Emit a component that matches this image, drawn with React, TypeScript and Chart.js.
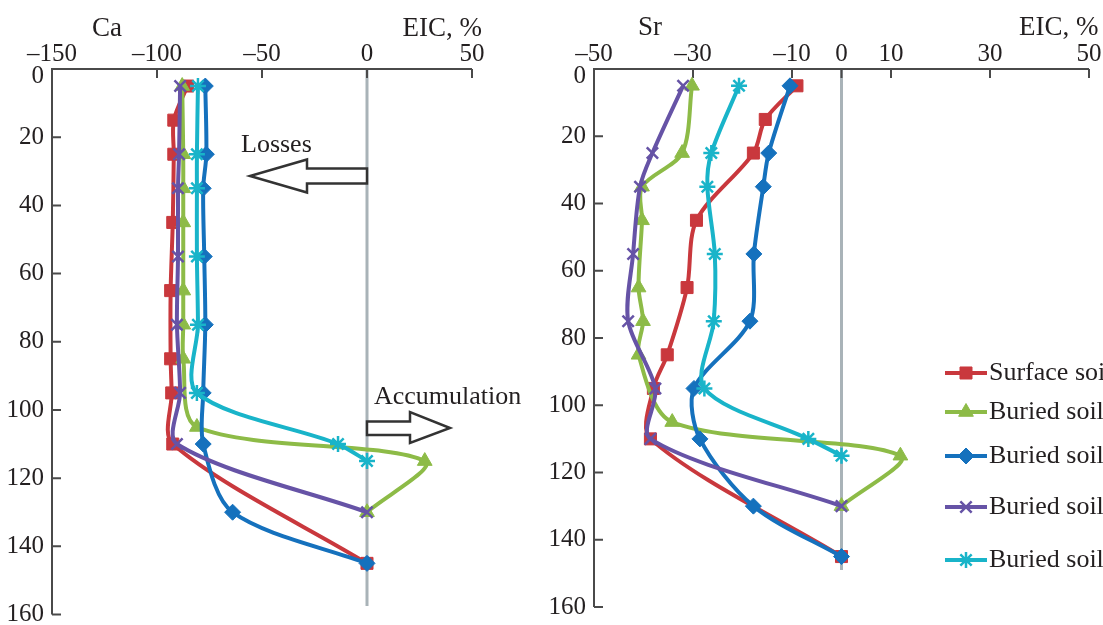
import React, { useEffect, useRef } from 'react';
import { Chart, registerables } from 'chart.js';
import { drawPoint } from 'chart.js/helpers';

Chart.register(...registerables);

// ---- data ----
const seriesNames = ['Surface soil', 'Buried soil 1', 'Buried soil 2', 'Buried soil 3', 'Buried soil 4'];

const depthSurface = [5, 15, 25, 45, 65, 85, 95, 110, 145];
const depthBuried1 = [5, 25, 35, 45, 65, 75, 85, 105, 115, 130];
const depthBuried2 = [5, 25, 35, 55, 75, 95, 110, 130, 145];
const depthBuried3 = [5, 25, 35, 55, 75, 95, 110, 130];
const depthBuried4 = [5, 25, 35, 55, 75, 95, 110, 115];

const caSurface = [-85.5, -92, -92, -92.5, -93.5, -93.5, -93, -92.5, 0];
const caBuried1 = [-88, -87.5, -87.5, -87.5, -87.5, -87.5, -87.5, -81, 27.5, 0];
const caBuried2 = [-77, -76.5, -78, -77.5, -77, -78, -78, -64, 0];
const caBuried3 = [-89, -89.5, -90, -90, -90.5, -89, -90.5, 0];
const caBuried4 = [-80.5, -81, -81, -81, -80.5, -81, -13.8, 0];

const srSurface = [-9, -15.4, -17.8, -29.3, -31.2, -35.2, -38, -38.6, 0];
const srBuried1 = [-30.2, -32.2, -40.3, -40.3, -41, -40.1, -41, -34.2, 11.9, 0];
const srBuried2 = [-10.4, -14.7, -15.8, -17.7, -18.5, -29.8, -28.6, -17.8, 0];
const srBuried3 = [-32, -38.2, -40.7, -42.1, -43.1, -37.6, -38.6, 0];
const srBuried4 = [-20.7, -26.3, -27.1, -25.6, -25.8, -27.7, -6.7, 0];

const caTicks = [-150, -100, -50, 0, 50];
const srTicks = [-50, -30, -10, 0, 10, 30, 50];
const depthTicks = [0, 20, 40, 60, 80, 100, 120, 140, 160];

// ---- styles ----
const depths = [depthSurface, depthBuried1, depthBuried2, depthBuried3, depthBuried4];
const colors = ['#c9383d', '#8dbb47', '#1571bd', '#6653a6', '#19b4c9'];
const pStyles = ['rect', 'triangle', 'rectRot', 'crossRot', 'star'];
const pRadius = [8.5, 8.5, 8, 8, 8];
const pBorder = [1, 1, 1, 2.5, 2.5];
const FONT = 'Liberation Serif';
const TEXT = '#231f20';

function buildDatasets(values: number[][]) {
  return values.map((vals, i) => ({
    label: seriesNames[i],
    data: depths[i].map((d, k) => ({ x: vals[k], y: d })),
    borderColor: colors[i],
    backgroundColor: colors[i],
    pointBackgroundColor: colors[i],
    pointBorderColor: colors[i],
    pointStyle: pStyles[i],
    pointRadius: pRadius[i],
    pointBorderWidth: pBorder[i],
    borderWidth: 4,
    tension: 0.3,
    fill: false,
    order: 5 - i,
  }));
}

type PanelCfg = {
  title: string;
  titleX: number;
  titleY: number;
  eicX: number;
  eicAlign: CanvasTextAlign;
  zeroEnd: number;
  annotations: boolean;
  legend: boolean;
};

function makePanelPlugin(cfg: PanelCfg) {
  return {
    id: 'panel',
    beforeDatasetsDraw(chart: any) {
      const { ctx, chartArea: a, scales } = chart;
      const x = scales.x;
      const y = scales.y;
      ctx.save();
      // zero reference line
      const zx = x.getPixelForValue(0);
      ctx.strokeStyle = '#a9b3b8';
      ctx.lineWidth = 3;
      ctx.beginPath();
      ctx.moveTo(zx, a.top);
      ctx.lineTo(zx, y.getPixelForValue(cfg.zeroEnd));
      ctx.stroke();
      // axes
      ctx.strokeStyle = '#4a4a4a';
      ctx.lineWidth = 2;
      ctx.beginPath();
      ctx.moveTo(a.left, a.bottom);
      ctx.lineTo(a.left, a.top);
      ctx.lineTo(a.right, a.top);
      ctx.stroke();
      // inner ticks
      ctx.beginPath();
      x.ticks.forEach((t: any) => {
        const px = x.getPixelForValue(t.value);
        ctx.moveTo(px, a.top);
        ctx.lineTo(px, a.top + 9);
      });
      y.ticks.forEach((t: any) => {
        const py = y.getPixelForValue(t.value);
        ctx.moveTo(a.left, py);
        ctx.lineTo(a.left + 9, py);
      });
      ctx.stroke();
      ctx.restore();
    },
    afterDraw(chart: any) {
      const { ctx, chartArea: a } = chart;
      ctx.save();
      ctx.fillStyle = TEXT;
      // titles
      ctx.font = `27px "${FONT}"`;
      ctx.textBaseline = 'alphabetic';
      ctx.textAlign = 'left';
      ctx.fillText(cfg.title, cfg.titleX, cfg.titleY);
      ctx.textAlign = cfg.eicAlign;
      ctx.fillText('EIC, %', cfg.eicX, cfg.titleY);
      // shifted "0" depth label
      ctx.font = `25px "${FONT}"`;
      ctx.textAlign = 'right';
      ctx.textBaseline = 'middle';
      ctx.fillText('0', a.left - 8, a.top + 7);

      if (cfg.annotations) {
        ctx.font = `26px "${FONT}"`;
        ctx.textAlign = 'left';
        ctx.textBaseline = 'alphabetic';
        ctx.fillText('Losses', 241, 152);
        ctx.fillText('Accumulation', 374, 404);
        ctx.strokeStyle = '#333';
        ctx.lineWidth = 2.5;
        ctx.lineJoin = 'miter';
        ctx.fillStyle = '#fff';
        // left arrow
        ctx.beginPath();
        ctx.moveTo(367, 168.5);
        ctx.lineTo(307, 168.5);
        ctx.lineTo(307, 159.5);
        ctx.lineTo(250, 176);
        ctx.lineTo(307, 192.5);
        ctx.lineTo(307, 183.5);
        ctx.lineTo(367, 183.5);
        ctx.closePath();
        ctx.fill();
        ctx.stroke();
        // right arrow
        ctx.beginPath();
        ctx.moveTo(367, 421.5);
        ctx.lineTo(410, 421.5);
        ctx.lineTo(410, 412);
        ctx.lineTo(450, 428);
        ctx.lineTo(410, 443);
        ctx.lineTo(410, 435);
        ctx.lineTo(367, 435);
        ctx.closePath();
        ctx.fill();
        ctx.stroke();
      }

      if (cfg.legend) {
        const ys = [373, 412, 456, 507, 560];
        chart.data.datasets.forEach((ds: any, i: number) => {
          const ly = ys[i];
          ctx.strokeStyle = ds.borderColor;
          ctx.lineWidth = 4;
          ctx.beginPath();
          ctx.moveTo(405, ly);
          ctx.lineTo(447, ly);
          ctx.stroke();
          ctx.fillStyle = ds.borderColor;
          ctx.lineWidth = ds.pointBorderWidth;
          drawPoint(ctx, { pointStyle: ds.pointStyle, radius: ds.pointRadius, borderWidth: ds.pointBorderWidth, rotation: 0 } as any, 426, ly);
          ctx.fillStyle = TEXT;
          ctx.font = `26px "${FONT}"`;
          ctx.textAlign = 'left';
          ctx.textBaseline = 'alphabetic';
          ctx.fillText(ds.label, 449, ly + 7);
        });
      }
      ctx.restore();
    },
  };
}

function makeConfig(
  values: number[][],
  xTicks: number[],
  pad: { left: number; right: number; bottom: number },
  yWidth: number,
  cfg: PanelCfg
): any {
  return {
    type: 'line',
    data: { datasets: buildDatasets(values) },
    options: {
      animation: false,
      responsive: false,
      devicePixelRatio: 1,
      layout: { padding: { left: pad.left, right: pad.right, top: 0, bottom: pad.bottom } },
      plugins: { legend: { display: false }, tooltip: { enabled: false } },
      scales: {
        x: {
          type: 'linear',
          position: 'top',
          min: xTicks[0],
          max: xTicks[xTicks.length - 1],
          afterBuildTicks: (s: any) => {
            s.ticks = xTicks.map((v) => ({ value: v }));
          },
          afterFit: (s: any) => {
            s.height = 69;
            s.paddingLeft = 0;
            s.paddingRight = 0;
          },
          grid: { display: false, drawTicks: false },
          border: { display: false },
          ticks: {
            padding: 0,
            maxRotation: 0,
            autoSkip: false,
            color: TEXT,
            font: { family: FONT, size: 25 },
            callback: (v: number) => (v < 0 ? '\u2013' + Math.abs(v) : String(v)),
          },
        },
        y: {
          type: 'linear',
          reverse: true,
          min: depthTicks[0],
          max: depthTicks[depthTicks.length - 1],
          afterBuildTicks: (s: any) => {
            s.ticks = depthTicks.map((v) => ({ value: v }));
          },
          afterFit: (s: any) => {
            s.width = yWidth;
            s.paddingTop = 0;
            s.paddingBottom = 0;
          },
          grid: { display: false, drawTicks: false },
          border: { display: false },
          ticks: {
            padding: 8,
            autoSkip: false,
            color: TEXT,
            font: { family: FONT, size: 25 },
            callback: (v: number) => (v === 0 ? '' : String(v)),
          },
        },
      },
    },
    plugins: [makePanelPlugin(cfg)],
  };
}

function Panel({ left, width, config }: { left: number; width: number; config: () => any }) {
  const ref = useRef<HTMLCanvasElement>(null);
  useEffect(() => {
    const chart = new Chart(ref.current as HTMLCanvasElement, config());
    return () => chart.destroy();
  }, []);
  return (
    <canvas
      ref={ref}
      width={width}
      height={625}
      style={{ position: 'absolute', left, top: 0, width, height: 625 }}
    />
  );
}

export default function App() {
  return (
    <div style={{ position: 'absolute', left: 0, top: 0, width: 1103, height: 625, background: '#fff', overflow: 'hidden' }}>
      <Panel
        left={0}
        width={540}
        config={() =>
          makeConfig(
            [caSurface, caBuried1, caBuried2, caBuried3, caBuried4],
            caTicks,
            { left: 0, right: 68, bottom: 9 },
            52,
            { title: 'Ca', titleX: 92, titleY: 36, eicX: 482, eicAlign: 'right', zeroEnd: 157.5, annotations: true, legend: false }
          )
        }
      />
      <Panel
        left={540}
        width={563}
        config={() =>
          makeConfig(
            [srSurface, srBuried1, srBuried2, srBuried3, srBuried4],
            srTicks,
            { left: 0, right: 14, bottom: 18 },
            54,
            { title: 'Sr', titleX: 98, titleY: 35, eicX: 479, eicAlign: 'left', zeroEnd: 149, annotations: false, legend: true }
          )
        }
      />
    </div>
  );
}
